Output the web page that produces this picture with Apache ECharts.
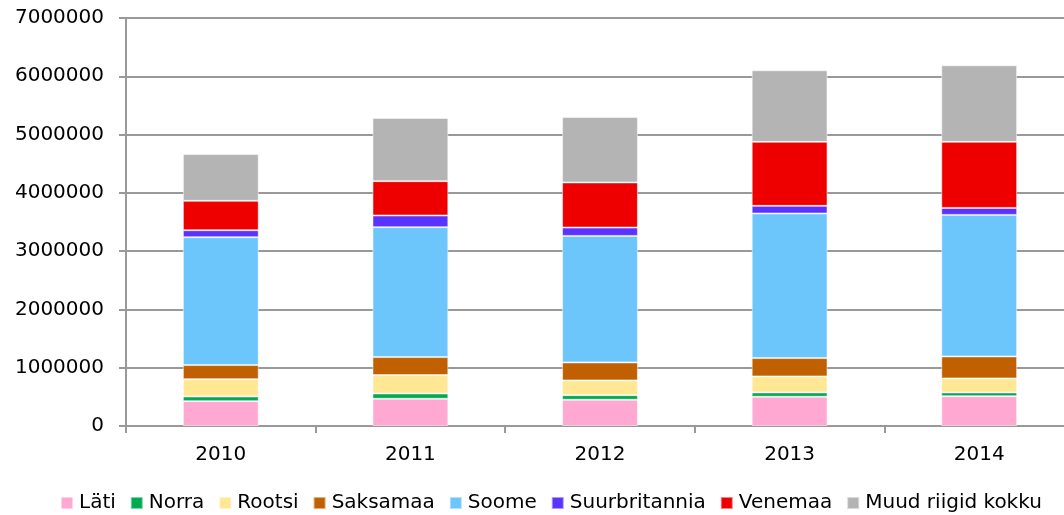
<!DOCTYPE html>
<html>
<head>
<meta charset="utf-8">
<script src="https://cdn.jsdelivr.net/npm/echarts@6/dist/echarts.min.js"></script>
<style>
  html, body { margin: 0; padding: 0; background: #fff; }
  #chart { width: 1064px; height: 515px; }
</style>
</head>
<body>
<div id="chart"></div>
<script>
// aastad
const years = ["2010", "2011", "2012", "2013", "2014"];

// riikide väärtused (loetud pildilt)
const lati = [426000, 467000, 450000, 502000, 512000];
const norra = [81000, 91000, 79000, 74000, 64000];
const rootsi = [297000, 315000, 253000, 275000, 240000];
const saksamaa = [241000, 309000, 309000, 314000, 378000];
const soome = [2194000, 2229000, 2170000, 2481000, 2428000];
const suurbritannia = [120000, 201000, 144000, 131000, 120000];
const venemaa = [504000, 589000, 774000, 1099000, 1134000];
const muud = [802000, 1083000, 1122000, 1227000, 1313000];

const seriesNames = ["Läti", "Norra", "Rootsi", "Saksamaa", "Soome", "Suurbritannia", "Venemaa", "Muud riigid kokku"];
const seriesData = [lati, norra, rootsi, saksamaa, soome, suurbritannia, venemaa, muud];
const colors = ["#FFA8D2", "#00AA50", "#FFE794", "#C06000", "#6CC6FC", "#5B33FF", "#EE0000", "#B4B4B4"];

const font = "DejaVu Sans, Verdana, sans-serif";
const myChart = echarts.init(document.getElementById("chart"));

const option = {
  animation: false,
  color: colors,
  // joonis ulatub paremalt veidi üle pildi serva, nagu originaalis
  grid: { left: 126, width: 948, top: 18, height: 408, outerBoundsMode: "none", containLabel: false },
  legend: {
    top: 493,
    left: 60,
    width: 1004,
    padding: 0,
    itemWidth: 12,
    itemHeight: 12,
    itemGap: 14,
    icon: "rect",
    textStyle: { fontFamily: font, fontSize: 20, color: "#000", padding: [0, 0, 0, 1] },
    data: seriesNames
  },
  xAxis: {
    type: "category",
    data: years,
    axisLine: { lineStyle: { color: "#999", width: 2 } },
    axisTick: { show: true, length: 7, lineStyle: { color: "#999", width: 2 } },
    axisLabel: { fontFamily: font, fontSize: 20, color: "#000", margin: 19 }
  },
  yAxis: {
    type: "value",
    min: 0,
    max: 7000000,
    interval: 1000000,
    axisLine: { show: true, lineStyle: { color: "#999", width: 2 } },
    axisTick: { show: true, length: 7, lineStyle: { color: "#999", width: 2 } },
    splitLine: { lineStyle: { color: "#999", width: 2 } },
    axisLabel: { fontFamily: font, fontSize: 20, color: "#000", margin: 22, formatter: (v) => String(v) }
  },
  series: seriesNames.map((name, i) => ({
    name: name,
    type: "bar",
    stack: "total",
    barWidth: "40%",
    data: seriesData[i],
    itemStyle: { borderColor: "rgba(255,255,255,0.5)", borderWidth: 1 }
  }))
};

option && myChart.setOption(option);
</script>
</body>
</html>
